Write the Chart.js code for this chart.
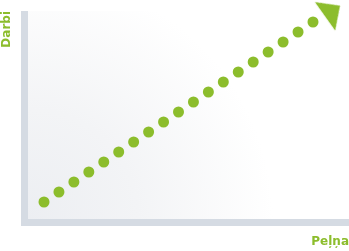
<!DOCTYPE html>
<html>
<head>
<meta charset="utf-8">
<script src="https://cdn.jsdelivr.net/npm/chart.js@4/dist/chart.umd.min.js"></script>
<style>
  html, body { margin: 0; padding: 0; background: #ffffff; }
  #wrap { width: 349px; height: 251px; position: relative; }
</style>
</head>
<body>
<div id="wrap"><canvas id="myChart"></canvas></div>
<script>
const xValues = [1, 2, 3, 4, 5, 6, 7, 8, 9, 10, 11, 12, 13, 14, 15, 16, 17, 18, 19];
const yValues = [1, 2, 3, 4, 5, 6, 7, 8, 9, 10, 11, 12, 13, 14, 15, 16, 17, 18, 19];
const arrowPoint = [{ x: 20.14, y: 19.92 }];
const xTitle = "Peļņa";
const yTitle = "Darbi";

const green = "#8cbd2c";
const axisGrey = "#d5dbe3";

// arrow head drawn once, pointing right, then rotated by chart.js
const makeArrow = () => {
  const c = document.createElement("canvas");
  c.width = 40;
  c.height = 40;
  const g = c.getContext("2d");
  g.fillStyle = green;
  g.beginPath();
  g.moveTo(32.3, 20);
  g.lineTo(13.9, 2.6);
  g.lineTo(13.9, 37.4);
  g.closePath();
  g.fill();
  return c;
};

const backdrop = {
  id: "backdrop",
  beforeDraw(chart) {
    const { ctx, chartArea: a, width } = chart;
    const grad = ctx.createRadialGradient(a.left, a.bottom, 0, a.left, a.bottom, 245);
    grad.addColorStop(0, "#eceef2");
    grad.addColorStop(0.45, "#f3f4f6");
    grad.addColorStop(1, "#ffffff");
    ctx.save();
    ctx.fillStyle = grad;
    ctx.fillRect(a.left, a.top, a.right - a.left, a.bottom - a.top);
    ctx.fillStyle = axisGrey;
    ctx.fillRect(a.left - 7, a.top, 7, a.bottom - a.top + 7);
    ctx.fillRect(a.left - 7, a.bottom, width - a.left + 7, 7);
    ctx.restore();
  },
};

const points = xValues.map((x, i) => ({ x: x, y: yValues[i] }));

const titleFont = { family: "DejaVu Sans", size: 12, weight: "bold" };

const configChart = {
  type: "scatter",
  data: {
    datasets: [
      {
        data: points,
        pointRadius: 5.5,
        pointBorderWidth: 0,
        pointBackgroundColor: green,
        pointHoverRadius: 5.5,
      },
      {
        data: arrowPoint,
        pointStyle: makeArrow(),
        pointRotation: -35.4,
        pointRadius: 10,
        pointHoverRadius: 10,
        clip: false,
      },
    ],
  },
  options: {
    responsive: true,
    maintainAspectRatio: false,
    animation: false,
    layout: { autoPadding: false, padding: { left: 0, top: 11, right: 0, bottom: 0 } },
    plugins: {
      legend: { display: false },
      tooltip: { enabled: false },
    },
    scales: {
      x: {
        type: "linear",
        min: -0.07,
        max: 21.41,
        ticks: { display: false },
        grid: { display: false, drawTicks: false },
        border: { display: false },
        title: {
          display: true,
          text: xTitle,
          align: "end",
          color: green,
          font: titleFont,
          padding: { top: 15.3, bottom: 2.3 },
        },
      },
      y: {
        type: "linear",
        min: -0.7,
        max: 20.1,
        ticks: { display: false },
        grid: { display: false, drawTicks: false },
        border: { display: false },
        title: {
          display: true,
          text: yTitle,
          align: "end",
          color: green,
          font: titleFont,
          padding: { top: 0, bottom: 13.6 },
        },
      },
    },
  },
  plugins: [backdrop],
};

const myChart = new Chart(document.querySelector("#myChart"), configChart);
</script>
</body>
</html>
